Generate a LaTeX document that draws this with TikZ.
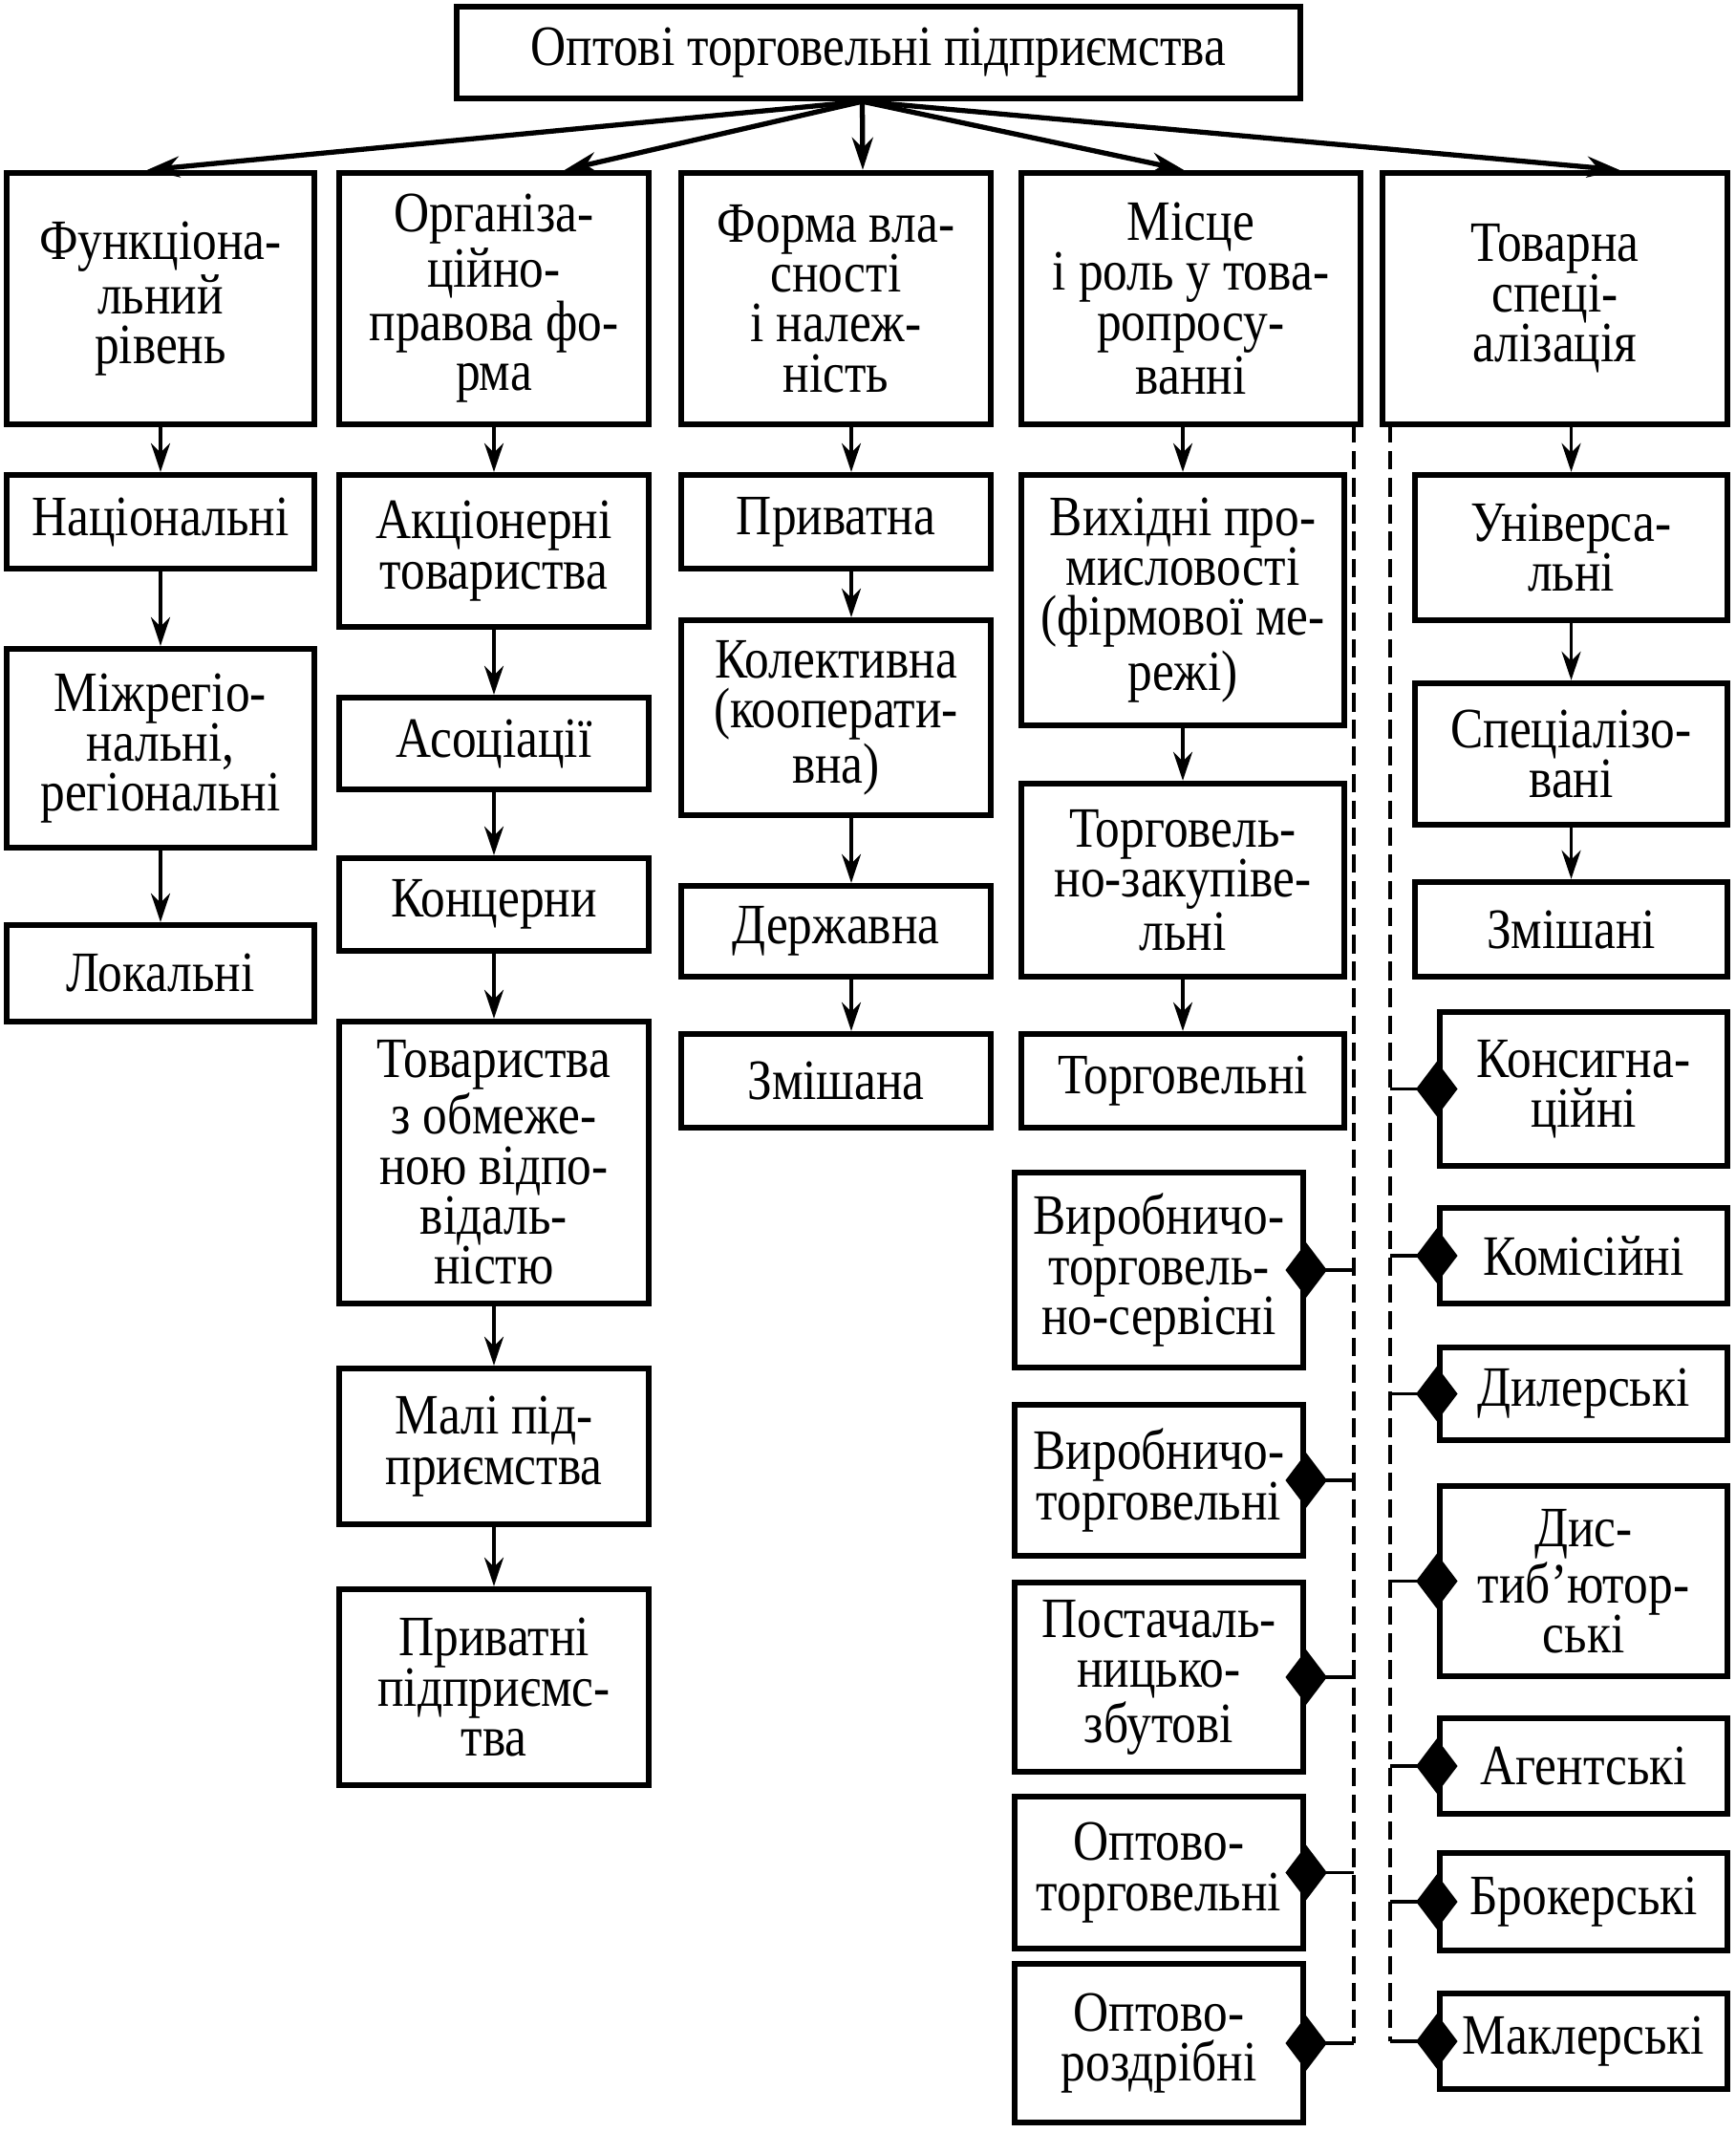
\documentclass[tikz,border=0pt]{standalone}
\usepackage{fontspec}
\setmainfont{Liberation Serif}[FakeStretch=0.86]
\usetikzlibrary{arrows.meta,shapes.geometric}

\begin{document}
\begin{tikzpicture}[
	box/.style={draw=black, line width=1.8pt, align=center, inner sep=1pt,
		font=\fontsize{17}{14.9}\selectfont},
	arr/.style={-{Stealth[length=0.3cm, width=0.2cm]}, line width=1pt},
	toparr/.style={-{Stealth[length=0.34cm, width=0.22cm]}, line width=1.5pt},
	dia/.style={diamond, fill=black, inner sep=0pt, minimum width=0.44cm, minimum height=0.58cm},
	link/.style={line width=1.1pt},
	guide/.style={line width=1pt, dash pattern=on 5.5pt off 2.5pt}]

	\useasboundingbox (0,0) rectangle (18.17,-22.32);

	\node[box, minimum width=8.83cm, minimum height=0.96cm] (top) at (9.195, -0.55) {Оптові торговельні підприємства};

	\node[box, minimum width=3.22cm, minimum height=2.63cm] (func) at (1.68, -3.125) {Функціона-\\льний\\рівень};
	\node[box, minimum width=3.24cm, minimum height=2.63cm] (org) at (5.17, -3.125) {Організа-\\ційно-\\правова фо-\\рма};
	\node[box, minimum width=3.24cm, minimum height=2.63cm] (vlas) at (8.75, -3.125) {Форма вла-\\сності\\і належ-\\ність};
	\node[box, minimum width=3.55cm, minimum height=2.63cm] (misce) at (12.465, -3.125) {Місце\\і роль у това-\\ропросу-\\ванні};
	\node[box, minimum width=3.61cm, minimum height=2.63cm] (tov) at (16.275, -3.125) {Товарна\\спеці-\\алізація};

	% functional level
	\node[box, minimum width=3.22cm, minimum height=0.98cm] (nac) at (1.68, -5.46) {Національні};
	\node[box, minimum width=3.22cm, minimum height=2.08cm] (mizh) at (1.68, -7.83) {Міжрегіо-\\нальні,\\регіональні};
	\node[box, minimum width=3.22cm, minimum height=1.01cm] (lok) at (1.68, -10.185) {Локальні};

	% legal form
	\node[box, minimum width=3.24cm, minimum height=1.59cm] (akc) at (5.17, -5.765) {Акціонерні\\товариства};
	\node[box, minimum width=3.24cm, minimum height=0.96cm] (asoc) at (5.17, -7.78) {Асоціації};
	\node[box, minimum width=3.24cm, minimum height=0.97cm] (konc) at (5.17, -9.465) {Концерни};
	\node[box, minimum width=3.24cm, minimum height=2.95cm] (tzov) at (5.17, -12.165) {Товариства\\з обмеже-\\ною відпо-\\відаль-\\ністю};
	\node[box, minimum width=3.24cm, minimum height=1.63cm] (mali) at (5.17, -15.135) {Малі під-\\приємства};
	\node[box, minimum width=3.24cm, minimum height=2.05cm] (pryv) at (5.17, -17.655) {Приватні\\підприємс-\\тва};

	% ownership
	\node[box, minimum width=3.24cm, minimum height=0.98cm] (pryvatna) at (8.75, -5.46) {Приватна};
	\node[box, minimum width=3.24cm, minimum height=2.04cm] (kolekt) at (8.75, -7.51) {Колективна\\(кооперати-\\вна)};
	\node[box, minimum width=3.24cm, minimum height=0.95cm] (derzh) at (8.75, -9.745) {Державна};
	\node[box, minimum width=3.24cm, minimum height=0.98cm] (zmish) at (8.75, -11.31) {Змішана};

	% place and role
	\node[box, minimum width=3.38cm, minimum height=2.62cm] (vyh) at (12.38, -6.28) {Вихідні про-\\мисловості\\(фірмової ме-\\режі)};
	\node[box, minimum width=3.38cm, minimum height=2.02cm] (zakup) at (12.38, -9.21) {Торговель-\\но-закупіве-\\льні};
	\node[box, minimum width=3.38cm, minimum height=0.98cm] (torg) at (12.38, -11.31) {Торговельні};

	\node[box, minimum width=3.02cm, minimum height=2.04cm] (vts) at (12.13, -13.29) {Виробничо-\\торговель-\\но-сервісні};
	\node[box, minimum width=3.02cm, minimum height=1.58cm] (vt) at (12.13, -15.49) {Виробничо-\\торговельні};
	\node[box, minimum width=3.02cm, minimum height=1.98cm] (ps) at (12.13, -17.55) {Постачаль-\\ницько-\\збутові};
	\node[box, minimum width=3.02cm, minimum height=1.59cm] (ot) at (12.13, -19.595) {Оптово-\\торговельні};
	\node[box, minimum width=3.02cm, minimum height=1.66cm] (or) at (12.13, -21.38) {Оптово-\\роздрібні};

	% specialisation
	\node[box, minimum width=3.27cm, minimum height=1.52cm] (univ) at (16.445, -5.73) {Універса-\\льні};
	\node[box, minimum width=3.27cm, minimum height=1.48cm] (spec) at (16.445, -7.89) {Спеціалізо-\\вані};
	\node[box, minimum width=3.27cm, minimum height=0.99cm] (zmishani) at (16.445, -9.725) {Змішані};

	\node[box, minimum width=3.01cm, minimum height=1.61cm] (kons) at (16.575, -11.395) {Консигна-\\ційні};
	\node[box, minimum width=3.01cm, minimum height=1.0cm] (kom) at (16.575, -13.14) {Комісійні};
	\node[box, minimum width=3.01cm, minimum height=0.97cm] (dyl) at (16.575, -14.585) {Дилерські};
	\node[box, minimum width=3.01cm, minimum height=1.99cm] (dys) at (16.575, -16.545) {Дис-\\тиб’ютор-\\ські};
	\node[box, minimum width=3.01cm, minimum height=1.0cm] (ag) at (16.575, -18.48) {Агентські};
	\node[box, minimum width=3.01cm, minimum height=1.02cm] (br) at (16.575, -19.9) {Брокерські};
	\node[box, minimum width=3.01cm, minimum height=1.0cm] (mak) at (16.575, -21.36) {Маклерські};

	\coordinate (hub) at ([xshift=-0.17cm]top.south);
	\coordinate (dA) at (14.17, -4.44);
	\coordinate (dB) at (14.55, -4.44);

	\path[toparr] (hub) edge ([xshift=-0.14cm]func.north);
	\path[toparr] (hub) edge ([xshift=0.74cm]org.north);
	\path[toparr] (hub) edge ([xshift=0.28cm]vlas.north);
	\path[toparr] (hub) edge ([xshift=-0.075cm]misce.north);
	\path[toparr] (hub) edge ([xshift=0.675cm]tov.north);

	\path[arr] (func) edge (nac);
	\path[arr] (nac) edge (mizh);
	\path[arr] (mizh) edge (lok);

	\path[arr] (org) edge (akc);
	\path[arr] (akc) edge (asoc);
	\path[arr] (asoc) edge (konc);
	\path[arr] (konc) edge (tzov);
	\path[arr] (tzov) edge (mali);
	\path[arr] (mali) edge (pryv);

	\path[arr] ([xshift=0.16cm]vlas.south) edge ([xshift=0.16cm]pryvatna.north);
	\path[arr] ([xshift=0.16cm]pryvatna.south) edge ([xshift=0.16cm]kolekt.north);
	\path[arr] ([xshift=0.16cm]kolekt.south) edge ([xshift=0.16cm]derzh.north);
	\path[arr] ([xshift=0.16cm]derzh.south) edge ([xshift=0.16cm]zmish.north);

	\path[arr] (vyh.north |- misce.south) edge (vyh.north);
	\path[arr] (vyh) edge (zakup);
	\path[arr] (zakup) edge (torg);

	\path[arr] (univ.north |- tov.south) edge (univ.north);
	\path[arr] (univ) edge (spec);
	\path[arr] (spec) edge (zmishani);

	% dashed guides
	\draw[guide] (dA) -- (dA |- or.east);
	\draw[guide] (dB) -- (dB |- mak.west);

	\foreach \n in {vts, vt, ps, ot, or} {
		\draw[link] (\n.east) -- (dA |- \n.east);
		\node[dia] (d\n) at (\n.east) {};
	}
	\foreach \n in {kons, kom, dyl, dys, ag, br, mak} {
		\draw[link] (dB |- \n.west) -- (\n.west);
		\node[dia] (d\n) at (\n.west) {};
	}

\end{tikzpicture}
\end{document}
